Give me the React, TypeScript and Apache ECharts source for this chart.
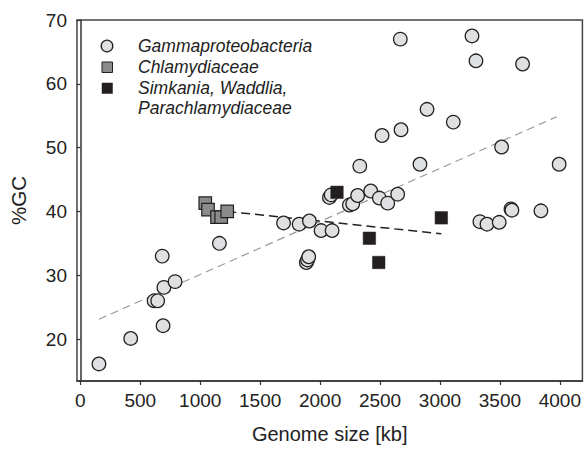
import React, { useEffect, useRef } from "react";
import * as echarts from "echarts";

// Gammaproteobacteria: genome size [kb] and %GC
const gammaKb = [155, 420, 615, 645, 683, 697, 690, 790, 1160, 1695, 1825, 1911, 2008, 2100, 1885, 1895, 1905, 2078, 2092, 2244, 2272, 2313, 2422, 2494, 2564, 2647, 2331, 2833, 2517, 2675, 2669, 2892, 3111, 3267, 3300, 3689, 3514, 3994, 3333, 3392, 3494, 3592, 3600, 3842];
const gammaGc = [16.1, 20.1, 26.0, 26.0, 33.0, 28.1, 22.1, 29.0, 35.0, 38.2, 38.0, 38.5, 37.0, 37.0, 32.0, 32.4, 32.9, 42.2, 42.6, 41.0, 41.2, 42.5, 43.2, 42.1, 41.3, 42.7, 47.1, 47.4, 51.9, 52.8, 67.0, 56.0, 54.0, 67.5, 63.6, 63.1, 50.1, 47.4, 38.4, 38.0, 38.3, 40.4, 40.2, 40.1];

// Chlamydiaceae
const chlamKb = [1042, 1065, 1140, 1175, 1225];
const chlamGc = [41.3, 40.3, 39.1, 39.1, 40.0];

// Simkania, Waddlia, Parachlamydiaceae
const simKb = [2141, 2411, 2489, 3011];
const simGc = [43.0, 35.8, 32.0, 39.0];

// Regression lines (end points)
const gammaFitKb = [155, 3975];
const gammaFitGc = [23.1, 54.85];
const chlamFitKb = [1225, 3011];
const chlamFitGc = [40.0, 36.5];

const xTicks = [0, 500, 1000, 1500, 2000, 2500, 3000, 3500, 4000];
const yTicks = [20, 30, 40, 50, 60, 70];

const legendNames = ["Gammaproteobacteria", "Chlamydiaceae", "Simkania, Waddlia,", "Parachlamydiaceae"];

const FONT = "'Liberation Sans', Arial, Helvetica, sans-serif";

const zip = (a: number[], b: number[]) => a.map((v, i) => [v, b[i]]);

export default function App() {
  const ref = useRef<HTMLDivElement>(null);
  useEffect(() => {
    const chart = echarts.init(ref.current!, null, { renderer: "svg" });
    const axisLine = { show: true, lineStyle: { color: "#333", width: 1.5 } };
    const option = {
      animation: false,
      backgroundColor: "#fff",
      grid: {
        left: 77,
        right: 1.5,
        top: 20,
        bottom: 65,
        show: true,
        borderColor: "#444",
        borderWidth: 1.5,
      },
      xAxis: {
        type: "value",
        min: -28,
        max: 4188,
        name: "Genome size [kb]",
        nameLocation: "middle",
        nameGap: 43,
        nameTextStyle: { fontFamily: FONT, fontSize: 20, color: "#222" },
        axisLine,
        axisTick: { show: true, length: 4, lineStyle: { color: "#333", width: 1.2 }, customValues: xTicks },
        axisLabel: {
          fontFamily: FONT,
          fontSize: 19,
          color: "#222",
          margin: 10,
          customValues: xTicks,
          formatter: (v: number) => String(v),
        },
        splitLine: { show: false },
      },
      yAxis: {
        type: "value",
        min: 13.43,
        max: 70,
        name: "%GC",
        nameLocation: "middle",
        nameGap: 48,
        nameTextStyle: { fontFamily: FONT, fontSize: 20.5, color: "#222" },
        axisLine,
        axisTick: { show: true, length: 4, lineStyle: { color: "#333", width: 1.2 }, customValues: yTicks },
        axisLabel: {
          fontFamily: FONT,
          fontSize: 19,
          color: "#222",
          margin: 10,
          customValues: yTicks,
          formatter: (v: number) => String(v),
        },
        splitLine: { show: false },
      },
      series: [
        {
          type: "line",
          name: "Gamma fit",
          data: zip(gammaFitKb, gammaFitGc),
          symbol: "none",
          lineStyle: { color: "#9a9a9a", width: 1.2, type: [8, 5] },
          z: 1,
        },
        {
          type: "line",
          name: "Chlamydiae fit",
          data: zip(chlamFitKb, chlamFitGc),
          symbol: "none",
          lineStyle: { color: "#222", width: 1.5, type: [9, 5] },
          z: 1,
        },
        {
          type: "scatter",
          name: "Gammaproteobacteria",
          data: zip(gammaKb, gammaGc),
          symbol: "circle",
          symbolSize: 13.5,
          itemStyle: { color: "#dfe0e2", borderColor: "#231f20", borderWidth: 1.3, opacity: 1 },
          z: 2,
        },
        {
          type: "scatter",
          name: "Chlamydiaceae",
          data: zip(chlamKb, chlamGc),
          symbol: "rect",
          symbolSize: 12.5,
          itemStyle: { color: "#8b8b8b", borderColor: "#231f20", borderWidth: 1.2, opacity: 1 },
          z: 3,
        },
        {
          type: "scatter",
          name: "Simkania, Waddlia, Parachlamydiaceae",
          data: zip(simKb, simGc),
          symbol: "rect",
          symbolSize: 12.5,
          itemStyle: { color: "#231f20", borderColor: "#231f20", borderWidth: 0.5, opacity: 1 },
          z: 4,
        },
      ],
      graphic: [
        {
          type: "circle",
          shape: { cx: 107, cy: 46, r: 5.8 },
          style: { fill: "#dfe0e2", stroke: "#231f20", lineWidth: 1.3 },
        },
        {
          type: "rect",
          shape: { x: 102, y: 62, width: 10.5, height: 10.5 },
          style: { fill: "#8b8b8b", stroke: "#231f20", lineWidth: 1 },
        },
        {
          type: "rect",
          shape: { x: 102, y: 83, width: 10.5, height: 10.5 },
          style: { fill: "#231f20", stroke: "#231f20", lineWidth: 0.5 },
        },
        ...legendNames.map((t, i) => ({
          type: "text",
          x: 138,
          y: [46, 67, 88, 108][i],
          style: {
            text: t,
            fontFamily: FONT,
            fontSize: 17.5,
            fontStyle: "italic",
            fill: "#222",
            verticalAlign: "middle",
            align: "left",
          },
        })),
      ],
    };
    chart.setOption(option as any);
    return () => chart.dispose();
  }, []);
  return (
    <div
      ref={ref}
      style={{ position: "absolute", left: 0, top: 0, width: 584, height: 449 }}
    />
  );
}
